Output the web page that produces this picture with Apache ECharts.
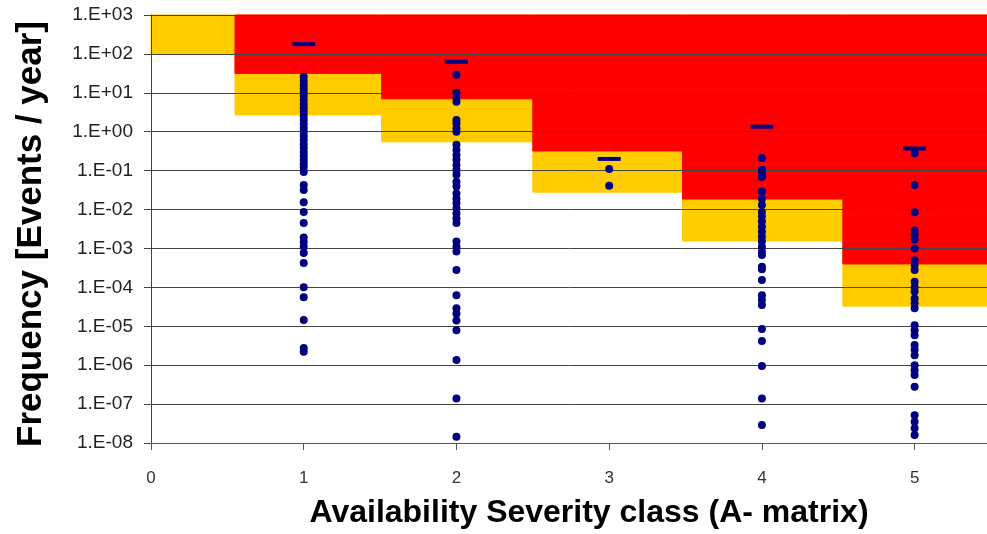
<!DOCTYPE html>
<html>
<head>
<meta charset="utf-8">
<script src="https://cdn.jsdelivr.net/npm/echarts@6/dist/echarts.min.js"></script>
<style>
  html, body { margin: 0; padding: 0; background: #fff; }
  #chart { width: 987px; height: 534px; }
</style>
</head>
<body>
<div id="chart"></div>
<script>
// risk zones: x edges of each band, lower limit of the red and yellow zones
var zoneEdges = [0, 0.55, 1.51, 2.50, 3.48, 4.53, 5.5]
var redLower = [null, 31.6, 7, 0.32, 0.0186, 4e-4]
var yellowLower = [100, 2.7, 0.55, 0.028, 0.00155, 3.3e-5]
var topFreq = 1000

// target frequency per severity class (the dashes)
var classes = [1, 2, 3, 4, 5]
var targetFreq = [178, 63, 0.2, 1.35, 0.37]

// observed event frequencies per class
var class1Freq = [26, 20, 16, 13, 10.5, 8.3, 6.5, 5.1, 4, 3.2, 2.5, 2.0, 1.6, 1.25, 1.0, 0.78, 0.62, 0.48, 0.38, 0.30, 0.24, 0.19, 0.15, 0.12, 0.092,
  0.043, 0.032, 0.0155, 0.0087, 0.0045, 0.0019, 0.00146, 0.0011, 0.00076, 0.00042, 1.0e-4, 5.6e-5, 1.45e-5, 2.75e-6, 2.2e-6]
var class2Freq = [29, 10, 7.4, 5.9, 2, 1.66, 1.23, 1.0, 0.46, 0.34, 0.25, 0.19, 0.14, 0.104, 0.078, 0.052, 0.039, 0.026, 0.019, 0.0145, 0.0107,
  0.0079, 0.0059, 0.0045, 0.0015, 0.0011, 0.00083, 2.8e-4, 6.3e-5, 2.9e-5, 2.1e-5, 1.4e-5, 7.9e-6, 1.35e-6, 1.4e-7, 1.45e-8]
var class3Freq = [0.11, 0.041]
var class4Freq = [0.21, 0.105, 0.085, 0.069, 0.029, 0.019, 0.013, 0.0087, 0.0066, 0.0049, 0.0036, 0.0027, 0.002, 0.0015, 0.0011, 0.00083,
  0.00068, 3.4e-4, 2.9e-4, 1.55e-4, 6.3e-5, 4.7e-5, 3.5e-5, 8.5e-6, 4.2e-6, 9.5e-7, 1.4e-7, 2.9e-8]
var class5Freq = [0.28, 0.043, 0.0085, 0.0029, 0.0022, 0.0017, 0.001, 5e-4, 3.7e-4, 2.8e-4, 1.4e-4, 1.0e-4, 7.8e-5, 5.2e-5, 3.9e-5, 2.9e-5,
  1.07e-5, 7.9e-6, 5.9e-6, 3.3e-6, 2.5e-6, 1.8e-6, 1e-6, 7.4e-7, 5.6e-7, 2.8e-7, 5.2e-8, 3.5e-8, 2.4e-8, 1.6e-8]

var allFreq = [class1Freq, class2Freq, class3Freq, class4Freq, class5Freq]

var RED = '#ff0000'
var YELLOW = '#ffcc00'
var NAVY = '#000080'

// rectangles [x0, x1, low, high, colour]; yellow first, red painted over it
var zoneRects = []
for (var i = 0; i < zoneEdges.length - 1; i++) {
  zoneRects.push([zoneEdges[i], zoneEdges[i + 1], yellowLower[i], topFreq, 1])
}
for (var j = 0; j < zoneEdges.length - 1; j++) {
  if (redLower[j] !== null) {
    zoneRects.push([zoneEdges[j], zoneEdges[j + 1], redLower[j], topFreq, 0])
  }
}

var points = []
allFreq.forEach(function (list, k) {
  list.forEach(function (f) { points.push([classes[k], f]) })
})
var targets = classes.map(function (c, k) { return [c, targetFreq[k]] })

function sciLabel (v) {
  var e = Math.round(Math.log10(v))
  return '1.E' + (e < 0 ? '-' : '+') + String(Math.abs(e)).padStart(2, '0')
}

var chart = echarts.init(document.getElementById('chart'))
chart.setOption({
  animation: false,
  textStyle: { fontFamily: 'Liberation Sans, Arial, sans-serif' },
  grid: { left: 151, top: 15, right: -4, bottom: 91, containLabel: false, outerBoundsMode: 'none' },
  xAxis: {
    type: 'value',
    min: 0,
    max: 5.5,
    interval: 1,
    axisLine: { lineStyle: { color: '#555', width: 1 } },
    axisTick: { show: true, length: 7, lineStyle: { color: '#555' } },
    axisLabel: {
      margin: 27,
      fontSize: 17,
      color: '#333',
      formatter: function (v) { return Number.isInteger(v) ? String(v) : '' }
    },
    splitLine: { show: false }
  },
  yAxis: {
    type: 'log',
    logBase: 10,
    min: 1e-8,
    max: 1e3,
    interval: 1,
    axisLine: { show: true, lineStyle: { color: '#444', width: 1 } },
    axisTick: { show: true, length: 7, lineStyle: { color: '#444' } },
    axisLabel: { margin: 18, fontSize: 19, color: '#222', formatter: sciLabel },
    splitLine: { show: true, lineStyle: { color: '#454545', width: 1 } }
  },
  graphic: [
    {
      type: 'text',
      x: 589,
      y: 513,
      style: {
        text: 'Availability Severity class (A- matrix)',
        font: 'bold 32px Liberation Sans, Arial, sans-serif',
        fill: '#000',
        align: 'center',
        verticalAlign: 'middle'
      }
    },
    {
      type: 'text',
      x: 31,
      y: 234,
      rotation: Math.PI / 2,
      style: {
        text: 'Frequency [Events / year]',
        font: 'bold 35px Liberation Sans, Arial, sans-serif',
        fill: '#000',
        align: 'center',
        verticalAlign: 'middle'
      }
    }
  ],
  series: [
    {
      type: 'custom',
      z: -1,
      silent: true,
      data: zoneRects,
      encode: { x: [0, 1], y: [2, 3] },
      renderItem: function (params, api) {
        var p0 = api.coord([api.value(0), api.value(3)])
        var p1 = api.coord([api.value(1), api.value(2)])
        var c = api.value(4) === 0 ? RED : YELLOW
        return {
          type: 'rect',
          shape: { x: p0[0], y: p0[1], width: p1[0] - p0[0], height: p1[1] - p0[1] },
          style: { fill: c, stroke: c, lineWidth: 1 }
        }
      }
    },
    {
      name: 'events',
      type: 'scatter',
      symbol: 'circle',
      symbolSize: 8,
      data: points,
      itemStyle: { color: NAVY, opacity: 1 }
    },
    {
      name: 'target',
      type: 'scatter',
      symbol: 'rect',
      symbolSize: [23, 4],
      data: targets,
      itemStyle: { color: NAVY, opacity: 1 }
    }
  ]
})
</script>
</body>
</html>
